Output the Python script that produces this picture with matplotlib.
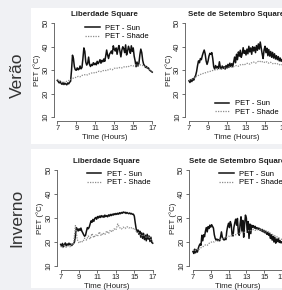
import numpy as np
import matplotlib
matplotlib.use('Agg')
import matplotlib.pyplot as plt
from matplotlib.patches import Rectangle

plt.rcParams['font.family'] = ['Liberation Sans', 'DejaVu Sans']

# PET readings, sun every 0.1 h and shade every 0.2 h, from 7 h to 17 h
liberdade_summer_sun = [
    25.7, 25.2, 24.6, 25.3, 24.4, 24.0, 24.8, 23.9, 24.5, 24.1, 23.8, 24.6, 24.2, 24.9, 25.3,
    30.0, 36.4, 35.0, 31.5, 30.2, 30.0, 31.0, 30.2, 30.5, 31.8, 30.6, 31.2, 35.0, 39.5, 38.0,
    33.5, 32.2, 33.0, 35.6, 32.4, 31.6, 32.5, 32.0, 33.2, 32.4, 33.0, 32.3, 33.8, 32.8, 33.5,
    34.5, 33.0, 34.2, 33.6, 34.8, 33.8, 36.0, 38.6, 36.5, 35.0, 36.8, 37.5, 38.2, 37.0, 40.4,
    39.0, 38.2, 39.5, 36.8, 39.2, 40.5, 38.0, 35.7, 38.5, 40.0, 39.2, 37.5, 40.8, 36.5, 38.0,
    40.2, 38.8, 37.2, 40.4, 38.0, 39.5, 36.0, 34.0, 31.5, 33.5, 31.8, 33.0, 36.5, 39.0, 37.5,
    34.2, 32.5, 32.0, 31.2, 31.6, 30.8, 31.0, 30.2, 29.8, 29.5, 29.2]
liberdade_summer_shade = [
    26.2, 25.5, 25.0, 24.6, 25.0, 25.3, 25.6, 26.0, 26.5, 26.8, 27.0, 27.4, 27.2, 27.8, 28.0,
    28.2, 28.0, 28.5, 28.8, 29.0, 28.8, 29.3, 29.6, 29.4, 29.8, 30.0, 29.8, 30.3, 30.5, 30.2,
    30.8, 31.0, 30.8, 31.2, 31.0, 31.4, 31.6, 31.3, 31.8, 32.0, 31.8, 32.2, 32.4, 32.0, 32.3,
    32.0, 31.6, 31.2, 30.6, 30.0, 29.4]

setembro_summer_sun = [
    25.5, 24.8, 26.0, 25.2, 26.4, 25.8, 27.0, 27.8, 29.5, 32.0, 34.0, 33.2, 35.0, 34.5, 36.2,
    37.5, 38.6, 37.0, 34.0, 32.5, 33.8, 36.0, 37.2, 36.8, 37.5, 35.0, 31.5, 30.5, 32.0, 31.0,
    31.6, 30.8, 33.6, 31.2, 30.6, 31.8, 30.8, 31.5, 30.5, 32.0, 31.0, 32.5, 31.2, 33.0, 31.6,
    32.8, 31.5, 33.5, 35.6, 33.2, 36.8, 34.5, 37.8, 36.0, 38.5, 35.5, 37.0, 39.6, 37.2, 38.4,
    36.5, 39.0, 37.0, 40.2, 37.8, 39.5, 36.8, 40.0, 38.2, 39.8, 37.5, 40.5, 38.5, 41.2, 39.0,
    42.0, 39.5, 37.0, 35.0, 38.6, 40.2, 37.5, 39.4, 36.2, 38.8, 36.0, 38.0, 35.5, 37.6, 35.2,
    37.0, 34.8, 36.2, 34.5, 35.8, 34.0, 35.2, 33.8, 34.6, 33.5, 34.0]
setembro_summer_shade = [
    25.8, 26.0, 26.4, 26.8, 27.4, 27.8, 28.2, 28.5, 28.8, 29.0, 29.3, 29.5, 29.8, 30.0, 30.2,
    30.3, 30.6, 30.5, 30.9, 31.0, 30.8, 31.3, 31.5, 31.2, 31.8, 32.0, 31.7, 32.3, 32.5, 32.2,
    32.8, 33.0, 32.6, 33.2, 33.5, 33.0, 33.6, 34.0, 33.4, 33.8, 33.2, 33.6, 33.0, 33.4, 32.8,
    33.0, 32.6, 32.8, 32.2, 32.4, 32.0]

liberdade_winter_sun = [
    19.0, 18.2, 19.4, 18.0, 18.8, 19.6, 18.4, 19.2, 18.6, 19.5, 18.8, 19.2, 18.5, 19.0, 19.4,
    20.0, 22.5, 26.0, 25.4, 24.6, 25.5, 24.8, 25.8, 24.5, 23.8, 23.0, 22.4, 22.8, 24.5, 26.0,
    25.5, 26.2, 27.5, 28.8, 28.2, 29.4, 28.6, 29.8, 30.2, 29.5, 30.6, 30.0, 30.8, 30.2, 31.0,
    30.4, 30.9, 30.3, 31.2, 30.6, 31.0, 30.5, 31.3, 30.8, 31.5, 31.0, 31.6, 31.2, 31.8, 31.4,
    31.9, 31.5, 32.0, 31.6, 32.2, 31.8, 32.3, 32.0, 32.5, 32.2, 32.4, 31.9, 32.3, 32.0, 31.8,
    32.1, 31.7, 31.9, 31.5, 31.6, 30.8, 28.0, 25.5, 24.2, 25.0, 23.2, 24.5, 22.0, 23.8, 21.5,
    23.6, 21.0, 22.8, 20.5, 23.2, 21.2, 22.5, 20.2, 22.0, 19.8, 19.5]
liberdade_winter_shade = [
    18.2, 17.5, 18.6, 17.8, 18.4, 18.0, 18.8, 19.2, 26.8, 21.0, 19.5, 20.4, 20.0, 21.6, 20.8,
    22.5, 21.2, 23.5, 21.8, 23.0, 22.4, 24.2, 22.6, 23.8, 23.0, 24.6, 23.5, 25.0, 24.2, 25.5,
    25.0, 27.5, 26.0, 25.4, 26.2, 25.6, 26.4, 25.8, 26.2, 25.4, 25.8, 24.5, 24.0, 23.2, 22.6,
    23.0, 22.2, 21.8, 22.4, 21.0, 20.2]

setembro_winter_sun = [
    16.0, 15.2, 17.0, 15.5, 16.8, 15.8, 17.4, 18.5, 19.2, 18.6, 22.8, 20.5, 23.0, 22.2, 24.5,
    26.0, 24.2, 26.4, 25.6, 27.0, 26.2, 27.2, 26.5, 25.8, 23.0, 21.5, 20.8, 21.2, 20.6, 21.0,
    20.5, 22.0, 24.2, 22.0, 21.2, 20.8, 21.5, 21.0, 24.5, 26.5, 27.8, 26.0, 28.5, 27.2, 23.0,
    22.5, 26.0, 28.0, 29.5, 27.0, 29.8, 24.0, 22.8, 27.5, 30.5, 24.5, 29.0, 22.0, 27.0, 31.2,
    30.0, 24.0, 28.5, 21.5, 27.5, 23.5, 27.0, 26.2, 26.8, 25.8, 26.5, 25.5, 26.0, 25.2, 25.8,
    25.0, 25.4, 24.6, 25.2, 24.2, 24.8, 23.8, 24.5, 23.2, 24.0, 22.8, 23.6, 21.5, 23.0, 20.8,
    22.4, 20.0, 22.0, 19.5, 21.2, 20.2, 21.5, 19.8, 20.5, 19.6, 20.0]
setembro_winter_shade = [
    16.8, 16.2, 17.0, 16.6, 17.4, 17.8, 18.2, 18.8, 18.6, 19.4, 19.8, 20.2, 20.0, 20.6, 20.4,
    21.0, 21.4, 21.2, 21.8, 22.0, 22.4, 22.2, 22.8, 23.2, 23.0, 23.6, 23.4, 24.0, 24.3, 24.0,
    24.6, 24.8, 24.5, 25.0, 25.2, 24.8, 25.3, 25.0, 25.4, 24.8, 24.6, 24.2, 24.5, 23.8, 23.5,
    23.0, 22.6, 22.2, 21.8, 21.4, 21.0]

hour_ticks = [7, 9, 11, 13, 15, 17]
pet_ticks = [10, 20, 30, 40, 50]
series_labels = ['PET - Sun', 'PET - Shade']

W, H = 282, 290
fig = plt.figure(figsize=(W / 100, H / 100), dpi=100)
fig.patch.set_facecolor('#f0f1f4')


def px_box(left, top, width, height):
    return [left / W, 1 - (top + height) / H, width / W, height / H]


# white panels behind each row (the right plots run off the edge, as in the source)
for top, h in [(8, 136), (149, 139)]:
    fig.add_artist(Rectangle((31 / W, 1 - (top + h) / H), 1, h / H,
                             transform=fig.transFigure, facecolor='white',
                             edgecolor='none', zorder=-1))

fig.text(17 / W, 1 - 75 / H, 'Verão', rotation=90, ha='center', va='center',
         fontsize=12.5, color='#333333')
fig.text(17 / W, 1 - 218 / H, 'Inverno', rotation=90, ha='center', va='center',
         fontsize=12.5, color='#333333')


def draw(box, sun, shade, title, loc, anchor):
    ax = fig.add_axes(px_box(*box))
    ax.patch.set_visible(False)
    ax.plot(np.linspace(7, 17, len(sun)), sun, color='#111111', lw=1.1,
            label=series_labels[0])
    ax.plot(np.linspace(7, 17, len(shade)), shade, color='#8c8c8c', lw=0.9,
            ls=(0, (1, 1)), label=series_labels[1])
    ax.set_xlim(6.6, 17.4)
    ax.set_ylim(8.4, 51.6)
    ax.set_xticks(hour_ticks)
    ax.set_yticks(pet_ticks)
    ax.spines[['top', 'right']].set_visible(False)
    ax.spines['left'].set_bounds(10, 50)
    ax.spines['bottom'].set_bounds(7, 17)
    for s in ['left', 'bottom']:
        ax.spines[s].set_linewidth(0.6)
        ax.spines[s].set_color('#555555')
    ax.tick_params(length=2, width=0.6, pad=1, labelsize=5.4, colors='#555555',
                   labelcolor='#222222')
    plt.setp(ax.get_yticklabels(), rotation=90, va='center')
    ax.set_title(title, fontsize=5.7, fontweight='bold', pad=2.6, color='#222222')
    ax.set_xlabel('Time (Hours)', fontsize=5.7, labelpad=1.2, color='#222222')
    ax.set_ylabel('PET (°C)', fontsize=5.7, labelpad=1, color='#222222')
    ax.legend(loc=loc, bbox_to_anchor=anchor, frameon=False, fontsize=5.5,
              handlelength=1.9, handletextpad=0.7, labelspacing=0.15,
              borderpad=0, borderaxespad=0)
    return ax


draw((53.5, 19.5, 102.5, 101.5), liberdade_summer_sun, liberdade_summer_shade,
     'Liberdade Square', 'upper left', (0.31, 0.95))
draw((185.2, 19.5, 102.6, 101.5), setembro_summer_sun, setembro_summer_shade,
     'Sete de Setembro Square', 'lower left', (0.29, 0.05))
draw((57, 166.2, 99.4, 103.6), liberdade_winter_sun, liberdade_winter_shade,
     'Liberdade Square', 'upper left', (0.30, 0.96))
draw((189.4, 166.2, 96.1, 103.6), setembro_winter_sun, setembro_winter_shade,
     'Sete de Setembro Square', 'upper left', (0.31, 0.96))

fig.savefig('out.png', dpi=100, facecolor=fig.get_facecolor())
